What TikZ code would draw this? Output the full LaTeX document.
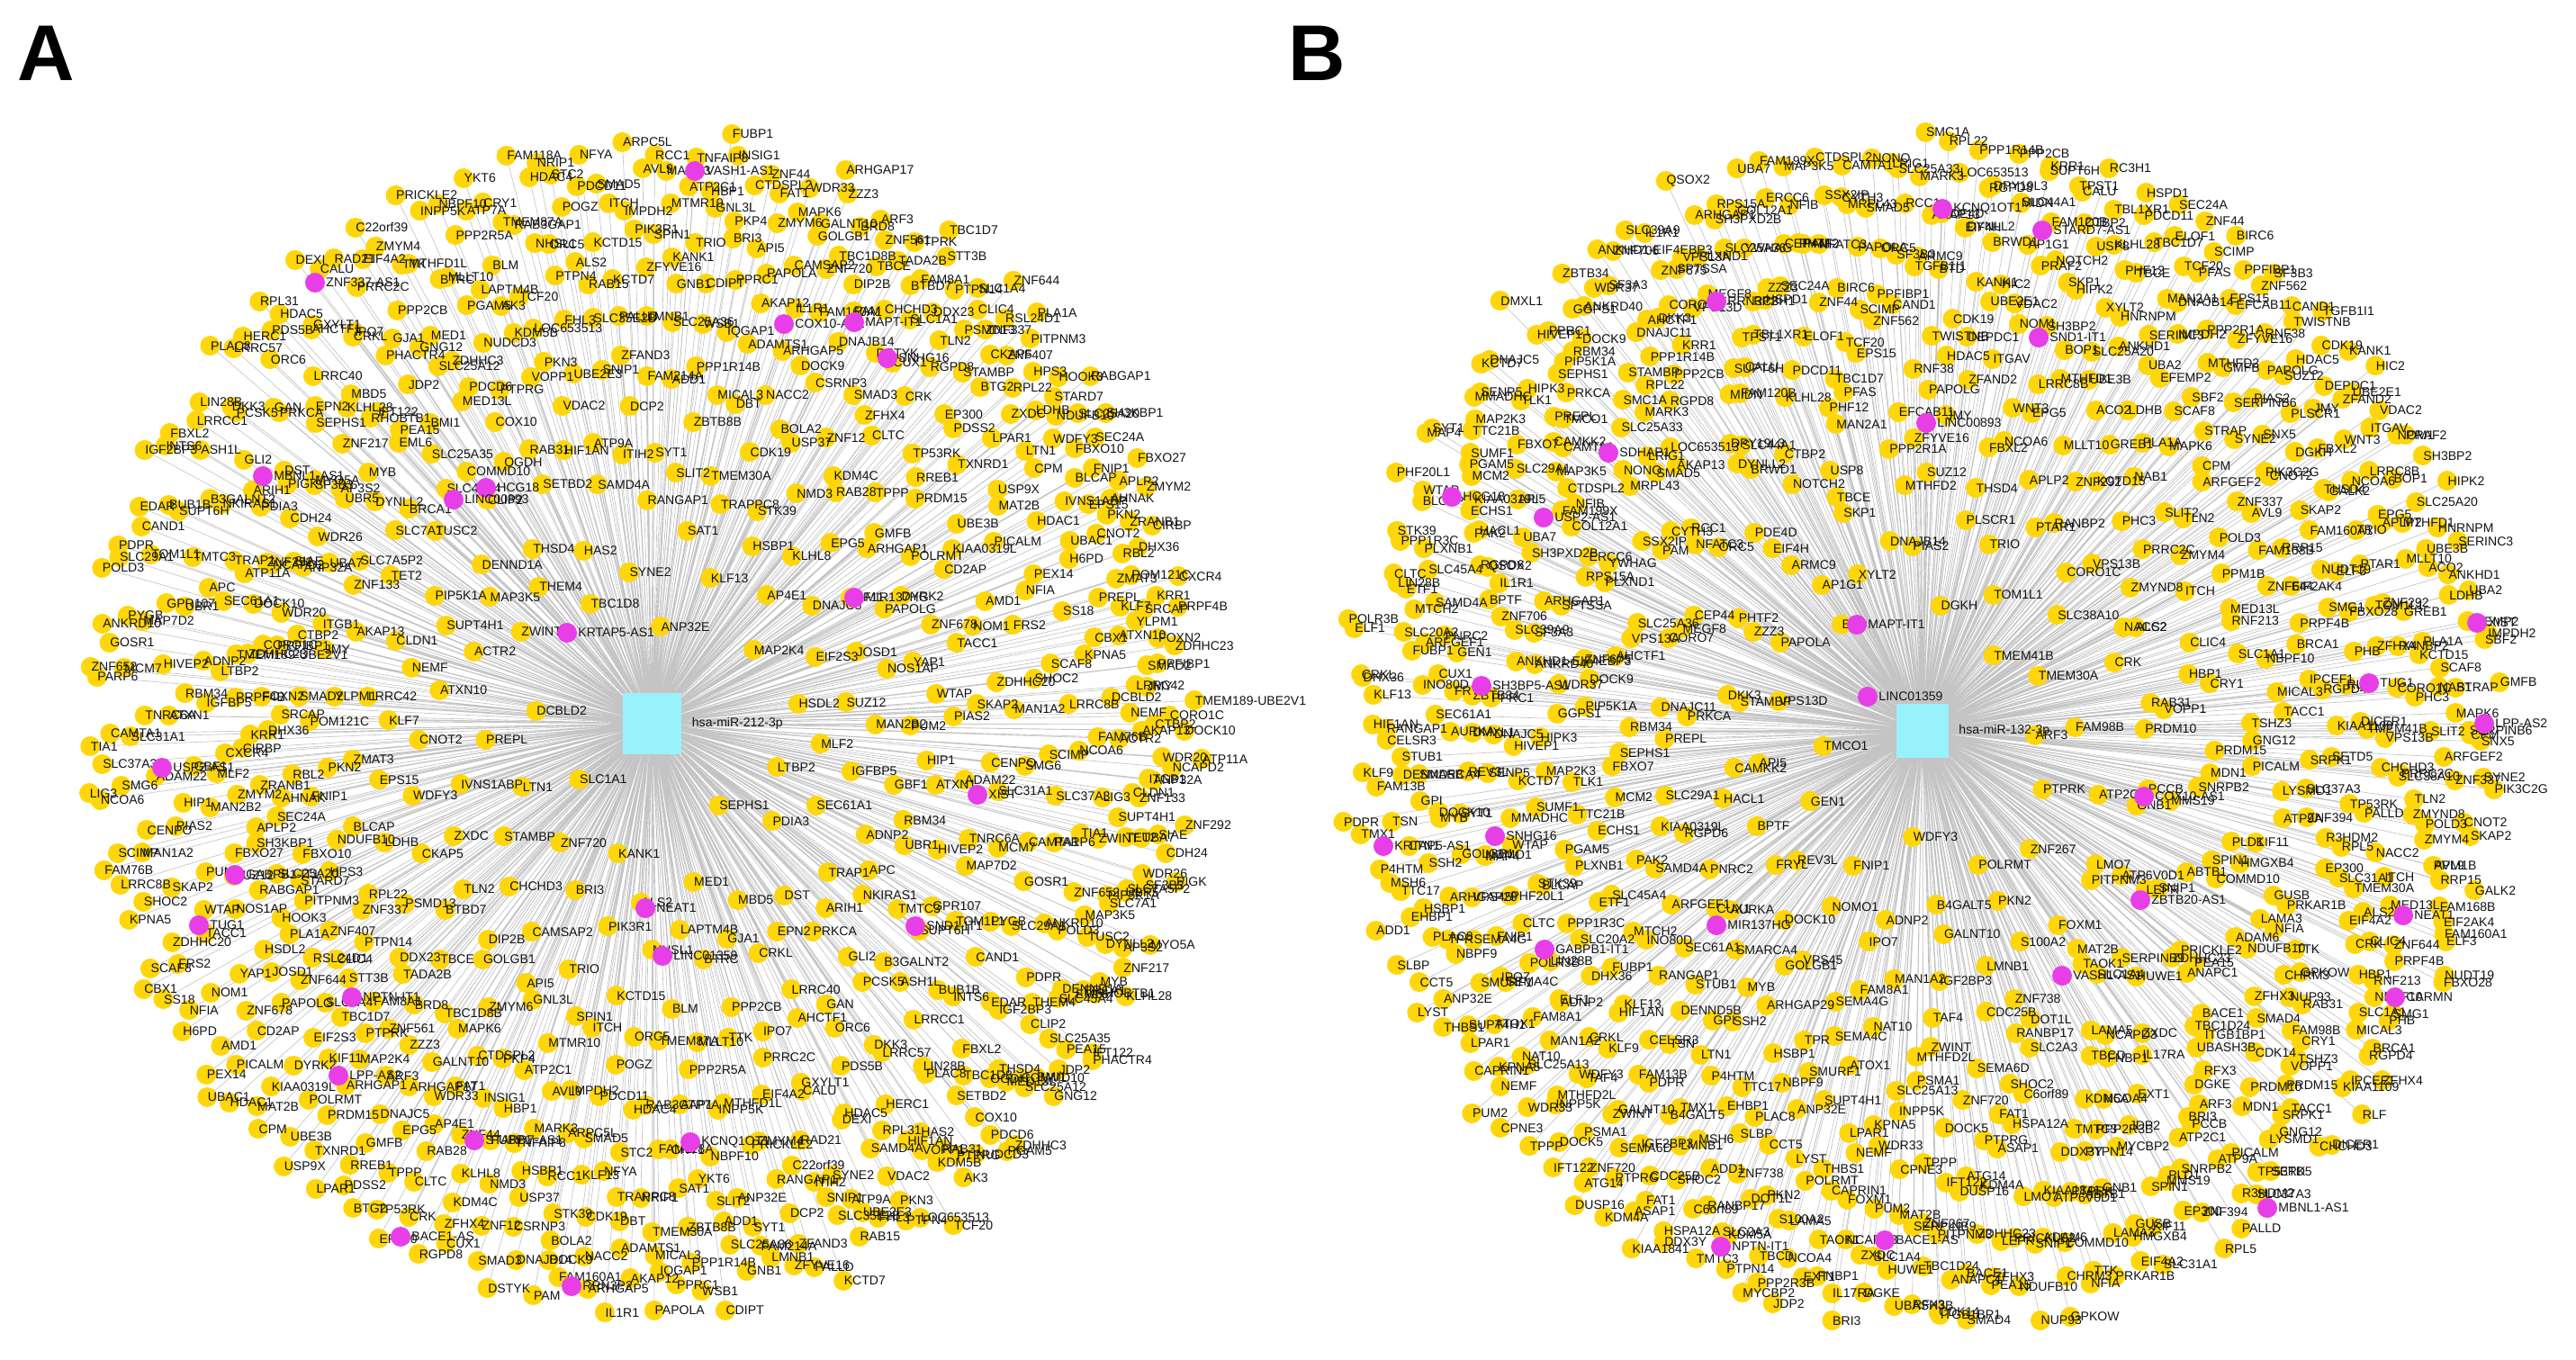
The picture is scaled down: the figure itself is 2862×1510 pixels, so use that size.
\documentclass[tikz,border=0pt]{standalone}
\usepackage{fontspec}
\setmainfont{Liberation Sans}
\pgfdeclarelayer{bg}
\pgfdeclarelayer{dots}
\pgfsetlayers{bg,dots,main}
\definecolor{geneY}{RGB}{255,214,10}
\definecolor{lncM}{RGB}{232,62,232}
\definecolor{hubC}{RGB}{152,242,252}
\definecolor{spokeG}{RGB}{196,196,196}
\definecolor{txt}{RGB}{20,20,20}
\tikzset{
 gene/.style={circle, fill=geneY, draw=none, minimum size=2.2mm, inner sep=0pt, label distance=0.35mm},
 lnc/.style={gene, fill=lncM},
 glab/.style={font=\fontsize{4.0pt}{4.5pt}\selectfont, text=txt, inner sep=0pt},
 gpos/.style={label distance=1.45mm, label={[glab]right:#1}},
 dotpath/.style={draw=geneY, line width=2.2mm, line cap=round},
 hub/.style={rectangle, fill=hubC, draw=none, inner sep=0pt},
 spoke/.style={draw=spokeG, line width=0.18pt},
 panel/.style={font=\fontsize{25pt}{25pt}\selectfont\bfseries, inner sep=0pt, anchor=base west},
}
\newcommand\listAin{SLC1A1, ANP32E, SEPHS1, DCBLD2, MAP2K4, KANK1, TBC1D8, LTBP2, LTN1, KLF13, MED1, ZWINT, HSDL2, ZNF720, SYNE2, PDIA3, PREPL, AP4E1, ALS2, THEM4, MLF2, STAMBP, SAT1, MBD5, ACTR2, EIF2S3, BRI3, HAS2, SEC61A1, IVNS1ABP, HSBP1, LAPTM4B, MAP3K5, SUZ12, CHCHD3, RANGAP1, DST, ATXN10, DNAJC5, PIK3R1, THSD4, IGFBP5, ZXDC, TRAPPC8, GJA1, SUPT4H1, JOSD1, CAMSAP2, SAMD4A, TRAP1, CNOT2, KLHL8, NHSL1, DENND1A, MAN2B2, TLN2, SLIT2, EPN2, NEMF, KIF11, TRIO, SETBD2, ADNP2, WDFY3, STK39, BTRC, PIP5K1A, NOS1AP, DIP2B, ITIH2}
\newcommand\listAout{ARIH1, KLF7, EPG5, KCTD15, CLIP2, GBF1, CKAP5, TMEM30A, CRKL, CLDN1, PAPOLG, API5, HIF1AN, APC, EPS15, NMD3, BLM, TUSC2, PUM2, BTBD7, SYT1, PRKCA, LRRC42, ARHGAP1, SPIN1, OGDH, RBM34, LDHB, CDK19, PPP2CB, TET2, YAP1, GOLGB1, ATP9A, NKIRAS1, ZMAT3, RAB28, ORC5, SLC45A4, HIP1, PSMD13, ZBTB8B, LRRC40, AKAP13, DYRK2, GNL3L, RAB31, UBR1, BLCAP,
USP37, MLLT10, SLC7A1, WTAP, TBCE, DCP2, GLI2, YLPM1, GMFB, ITCH, COMMD10, ATXN1, RPL22, DBT, IPO7, ZNF133, ZNF678, ZMYM6, VDAC2, TMTC3, PKN2, KDM4C, TMEM87A, BRCA1, PIAS2, DDX23, ADD1, GAN, JMY, POLRMT, MTMR10, COX10, HIVEP2, NDUFB10, BOLA2, TTK, SLC7A5P2, TACC1, TBC1D8B, SNIP1, B3GALNT2, POM121C, TPPP, POGZ, SLC25A35, ADAM22, ZNF337, MICAL3, AHCTF1, ITGB1, CD2AP, PKP4, VOPP1, GPR107, FNIP1, ZNF12, PPP2R5A, DYNLL2, SKAP2, TADA2B, FAM214A, PCSK5, SMAD2, PRDM15, IMPDH2, MED13L, TNRC6A, HPS3, NACC2, PRRC2C, UBA7, NOM1, MAPK6, UBE2E3, SUPT6H, RBL2, CLTC, RAB3GAP1, EML6, CENPO, PTPN14, PPP1R14B, ORC6, CTBP2, KIAA0319L,
ATP2C1, PTPRG, MAP7D2, FBXO10, CSRNP3, MTHFD1L, UBR5, ZDHHC20, BRD8, ZFAND3, ASH1L, SRCAP, RREB1, PDCD11, BMI1, SLC31A1, ZNF407, ADAMTS1, GXYLT1, ANP32A, AMD1, CTDSPL2, PKN3, TOM1L1, AHNAK, ZFHX4, ATP7A, MYB, MAN1A2, FAM8A1, SLC25A36, DKK3, PPFIBP1, UBE3B, AVL9, PDCD6, MCM7, STARD7, DOCK9, EIF4A2, WDR26, FRS2, GALNT10, SLC35E2B, BUB1B, DHX36, TP53RK, HDAC4, PEA15, SMG6, CLIC4, IQGAP1, PDS5B, WDR20, PICALM, HBP1, KDM5B, PYGB, SEC24A, SMAD3, INPP5K, AP3S2, SHOC2, ZNF561, LMNB1, LRRCC1, FOXN2, TXNRD1, SMAD5, SLC25A12, CAMTA1, PITPNM3, ARHGAP5, CALU, SIAE, NFIA, FAT1, FHL3, CAND1, ZRANB1, CRK, CRY1, RHOBTB1, SCIMP, STT3B, WSB1, LRRC57, CORO1C, MAT2B, MARK3, NUDCD3, GOSR1, SLC25A20, DNAJB14, ZMYM4, SF3B3, SCAF8, ZZZ3, PALLD, INTS6, KRR1, PDSS2, STC2, JDP2, SLC37A3, RSL24D1,
AKAP12, HDAC5, NCAPD2, PEX14, INSIG1, LOC653513, SLC29A1, APLP2, CUX1, NBPF10, ZNF217, LRRC8B, PTPRK, GNB1, LIN28B, ZDHHC23, USP9X, ARPC5L, ZDHHC3, PARP6, HOOK3, FAM160A1, RAD21, CDH24, SS18, WDR33, RAB15, EDAR, CIRBP, EP300, FAM118A, IFT122, NCOA6, SLC1A4, PPRC1, HERC1, DOCK10, HDAC1, TNFAIP8, AK3, ANKRD10, SH3KBP1, DSTYK, PRICKLE2, MYO5A, KPNA5, ARF3, ZFYVE16, FBXL2, PRPF4B, LPAR1, NFYA, GNG12, TIA1, PLA1A, IL1R1, DEXI, ZNF292, H6PD, ZNF44, PTPN4, PDPR, ZMYM2, RGPD8, YKT6, KLHL28, FAM76B, TBC1D7, CDIPT, PLAC8, TMEM189-UBE2V1, CPM, RCC1, PGAM5, ZNF652, RABGAP1, PAM, C22orf39, PIGK, CBX1, ARHGAP17, KCTD7, IGF2BP3, CXCR4, BTG2, NRIP1, PHACTR4, LIG3, ZNF644, PAPOLA, RPL31, ATP11A, UBAC1, FUBP1, TCF20, POLD3, FBXO27}
\newcommand\listBin{TMCO1, TMEM41B, WDFY3, BTD, ARF3, GEN1, DGKH, POLRMT, VPS13D, TMEM30A, FNIP1, XYLT2, PTPRK, API5, TOM1L1, B4GALT5, PAPOLA, FAM98B, REV3L, PIAS2, ZNF267, STAMBP, SLC38A10, ADNP2, AP1G1, ATP2C1, BPTF, TRIO, PKN2, ZZZ3, CRK, NOMO1, DNAJB14, LMO7, CAMKK2, CORO1C, GALNT10, ARMC9, PRDM10, FRYL, PLSCR1, FOXM1, DKK3, NACC2, IPO7, SKP1, GNB1, HACL1, PTAR1, LMNB1, PHTF2, RAB31, DOCK10, MTHFD2, PITPNM3, PRKCA, VPS13B, MAN1A2}
\newcommand\listBout{EIF4H, PCCB, PNRC2, THSD4, S100A2, MEGF8, ALS2, VPS45, TBCE, ATP6V0D1, SLC29A1, RANBP2, IGF2BP3, ORC5, VOPP1, AURKA, SUZ12, MAT2B, DNAJC11, ZMYND8, FAM8A1, NOTCH2, MMS19, RGPD6, APLP2, ZNF738, CEP44, HBP1, GOLGB1, PPP2R1A, LEPR, PREPL, PHC3, TAF4, PDE4D, MDN1, CUX1, FBXL2, TAOK1, CORO7, ITCH, SEMA4G, USP8, ABTB1, KIAA0319L, ZNF292, CDC25B, NFATC3, CRY1, SMARCA4, ZFYVE16, SERPINB9, RBM34, PRRC2C, NAT10, BRWD1, SNRPB2, SAMD4A, NCOA6, DOT1L, SLC25A36, CLIC4, ARHGAP29, MAN2A1, SNIP1, FBXO7, KCTD15, ZWINT, RCC1, PRDM15, SEC61A1, JMY, SLC1A4, AHCTF1, ZMYM4, SEMA4C, CTBP2, SPIN1, PAK2, MLLT10, RANBP17, PAM, SLC1A1, MYB, EFCAB11, ZDHHC23, SEPHS1, SLIT2, MTHFD2L, DYNLL2, PICALM, ARFGEF1, WNT3, LAMA5, VPS13A, MED13L, TPR, PHF12, COMMD10, MCM2, GREB1, SEMA6D, CYTH3, TSHZ3, STUB1,
PAPOLG, HUWE1, DOCK9, TLN2, ATOX1, SLC44A1, PLD1, SLC45A4, EPG5, SLC2A3, YWHAG, RNF213, SSH2, PFAS, PRICKLE2, TLK1, NAB1, PSMA1, AKAP13, GNG12, INO80D, ZFAND2, NCAPD3, ZNF675, PPM1B, SMURF1, KLHL28, HMGXB4, ECHS1, ACO2, SHOC2, SSX2IP, MICAL3, GPI, RNF38, ANAPC1, PIP5K1A, ARFGEF2, SLC25A13, DPY19L3, ATP9A, MTCH2, LRRC8B, TBCD, PLXND1, ZNF644, HSBP1, TBC1D7, ADAM6, TTC21B, PLA1A, ZNF720, SMAD5, TACC1, RANGAP1, HDAC5, ZXDC, WDR37, POLD3, SUPT4H1, FAM120B, KIF11, PLXNB1, MTHFD1, C6orf89, ERCC6, NBPF10, LTN1, EPS15, PEA15, HIPK3, MAPK6, INPP5K, LOC653513, LYSMD1, FUBP1, ITGAV, FNBP1, SPTSSA, FAM168B, NBPF9, PDCD11, LAMA3, PGAM5, LDHB, FAT1, MRPL43, IPCEF1, DENND5B, TWISTNB, TBC1D24, GGPS1, ZNF337, KPNA5, MIDN, ZNF394, ETF1, BOP1, KDM5A,
RPS15A, PRPF4B, TTC17, TCF20, NDUFB10, MAP2K3, SCAF8, DOCK5, LRIG1, SRPK1, KLF13, DEPDC1, IL17RA, SF3A3, AVL9, ANP32E, CALU, GUSB, BLCAP, UBE3B, HSPA12A, NFIB, BRCA1, TSN, ZNF562, BACE1, HIVEP1, CPM, WDR33, RGPD8, SLC37A3, SLC20A2, NOM1, NCOA4, ARHGAP1, EIF2AK4, PLAC8, ELOF1, NFIA, SUMF1, EFEMP2, PTPRG, NONO, KIAA1109, CELSR3, CDK19, UBASH3B, ANKRD40, CNOT2, LPAR1, SUPT6H, EP300, PPP1R3C, SLC25A20, TMTC3, COL12A1, SMG1, P4HTM, SCIMP, ZFHX3, KCTD7, STRAP, TPPP, MARK3, SETD5, DHX36, UBE2E1, EXT1, SLC39A9,
RRP15, CCT5, TBL1XR1, PRKAR1B, WTAP, ANKHD1, ASAP1, CTDSPL2, RGPD4, FAM13B, CAND1, ITGB1BP1, PPRC1, SYNE2, NEMF, PPP2CB, R3HDM2, LIN28B, SH3BP2, PPP2R3B, SH3PXD2B, NUDT19, EHBP1, ZNF44, CHRM3, MMADHC, SBF2, ATG14, SLC25A33, DICER1, HIF1AN, KANK1, DGKE, ANKHD1-EIF4EBP3, SKAP2, THBS1, TPST1, SLC31A1, STK39, HNRNPM, DDX3Y, FAM199X, PHB, TMX1, PPFIBP1, SMAD4, DNAJC5, SERPINB6, CPNE3, RPL22, TP53RK, ELF1, VDAC2, JDP2, IL1R1, FAM160A1, SLBP, HSPD1, TTK, MAP4, UBA2, KDM4A, CAMTA1, RLF, KLF9, TGFB1I1, RFX3, ZBTB34, PIK3C2G, CAPRIN1, KRR1, RPL5, CLTC, HIPK2, PTPN14, UBA7, FBXO28, MSH6, BIRC6, NUP93, SENP5, GMFB, IFT122, SMC1A, CHCHD3, CRKL, HIC2, BRI3, ZNF706, GALK2, LYST, RC3H1, EIF4A2, PHF20L1, SERINC3, KIAA1841, MAP3K5, ZFHX4, PDPR, SF3B3, CDK14, DMXL1, SNX5, PUM2, PPP1R14B, PALLD, POLR3B, PRAF2, MYCBP2, QSOX2, ELF3, ADD1, SEC24A, GPKOW, SYT1, IMPDH2, DUSP16}
\edef\fullA{\listAin,\listAout,\listAin,\listAout}
\edef\fullB{\listBin,\listBout,\listBin,\listBout}
\begin{document}
\begin{tikzpicture}[x=0.1mm, y=-0.1mm]
\useasboundingbox (0,0) rectangle (2862,1510);
\begin{pgfonlayer}{bg}\fill[white] (0,0) rectangle (2862,1510);\end{pgfonlayer}
\foreach \g [count=\c] in \fullA {\xdef\NA{\c}}
\foreach \g [count=\c] in \fullB {\xdef\NB{\c}}
\node[panel] (pA) at (19,89) {A};
\node[panel] (pB) at (1431,89) {B};
% ---------- panel A
\node[hub, minimum width=6.5mm, minimum height=6.8mm] (hubA) at (724,804) {};
\node[glab, anchor=west] (hubAl) at ([xshift=1.1mm]hubA.east) {hsa-miR-212-3p};
\gdef\spokesA{}\gdef\dotsA{}
\foreach \g [count=\i] in \fullA {
  \edef\rr{\fpeval{((\i+3.4)/(\NA+3.4))^(1/3)}}
  \edef\px{\fpeval{724+622*\rr*cosd(\i*137.508)+16*sind(\i*7919.37)}}
  \edef\py{\fpeval{804+652*\rr*sind(\i*137.508)+16*cosd(\i*4513.71)}}
  \coordinate[gpos={\g}] (a\i) at (\px,\py);
  \xdef\spokesA{\spokesA (hubA.center) -- (a\i)}
  \xdef\dotsA{\dotsA (a\i) -- ++(0.05,0)}
}
\foreach \g/\px/\py [count=\i] in {VASH1-AS1/772/190, ZNF337-AS1/350/314, COX10-AS1/871/360, MAPT-IT1/949/358, SNHG16/986/398, MBNL1-AS1/292/529, HCG18/540/542, LINC00893/504/555, KRTAP5-AS1/630/703, MIR137HG/949/664, XIST/1086/883, USP2-AS1/180/853, GABPB1-IT1/261/972, TUG1/221/1028, NEAT1/717/1009, LINC01359/736/1062, NPTN-IT1/391/1108, LPP-AS2/376/1195, STARD7-AS1/527/1267, KCNQ1OT1/767/1269, BACE1-AS/445/1374, RRN3P2/635/1429, SND1-IT1/1017/1029} {
  \node[lnc, label={[glab]right:\g}] (ma\i) at (\px,\py) {};
  \xdef\spokesA{\spokesA (hubA.center) -- (ma\i.center)}
}
\begin{pgfonlayer}{bg}\draw[spoke] \spokesA;\end{pgfonlayer}
\begin{pgfonlayer}{dots}\draw[dotpath] \dotsA;\end{pgfonlayer}
% ---------- panel B
\node[hub, minimum width=5.8mm, minimum height=6.0mm] (hubB) at (2136,812) {};
\node[glab, anchor=west] (hubBl) at ([xshift=1.0mm]hubB.east) {hsa-miR-132-3p};
\gdef\spokesB{}\gdef\dotsB{}
\foreach \g [count=\i] in \fullB {
  \edef\rr{\fpeval{((\i+3.4)/(\NB+3.4))^(1/3)}}
  \edef\px{\fpeval{2136+640*\rr*cosd(\i*137.508+40)+16*sind(\i*6113.37)}}
  \edef\py{\fpeval{812+662*\rr*sind(\i*137.508+40)+16*cosd(\i*3917.71)}}
  \coordinate[gpos={\g}] (b\i) at (\px,\py);
  \xdef\spokesB{\spokesB (hubB.center) -- (b\i)}
  \xdef\dotsB{\dotsB (b\i) -- ++(0.05,0)}
}
\foreach \g/\px/\py [count=\i] in {RRN3P2/1907/335, SND1-IT1/2265/375, LINC00893/2140/470, TUG1/2632/759, XIST/2752/692, LPP-AS2/2760/804, HCG18/1613/552, USP2-AS1/1715/575, SDHAP1/1787/503, SH3BP5-AS1/1646/762, NPTN-IT1/1912/1385, BACE1-AS/2094/1378, MAPT-IT1/2063/694, COX10-AS1/2382/885, ZBTB20-AS1/2378/1000, VASH1-AS1/2291/1084, NEAT1/2670/1017, CARMN/2661/1108, KRTAP5-AS1/1537/940, SNHG16/1661/929, GABPB1-IT1/1716/1055, MIR137HG/1907/1028, LINC01359/2075/774, STARD7-AS1/2269/256, MBNL1-AS1/2519/1342, KCNQ1OT1/2158/232} {
  \node[lnc, label={[glab]right:\g}] (mb\i) at (\px,\py) {};
  \xdef\spokesB{\spokesB (hubB.center) -- (mb\i.center)}
}
\begin{pgfonlayer}{bg}\draw[spoke] \spokesB;\end{pgfonlayer}
\begin{pgfonlayer}{dots}\draw[dotpath] \dotsB;\end{pgfonlayer}
\end{tikzpicture}
\end{document}
